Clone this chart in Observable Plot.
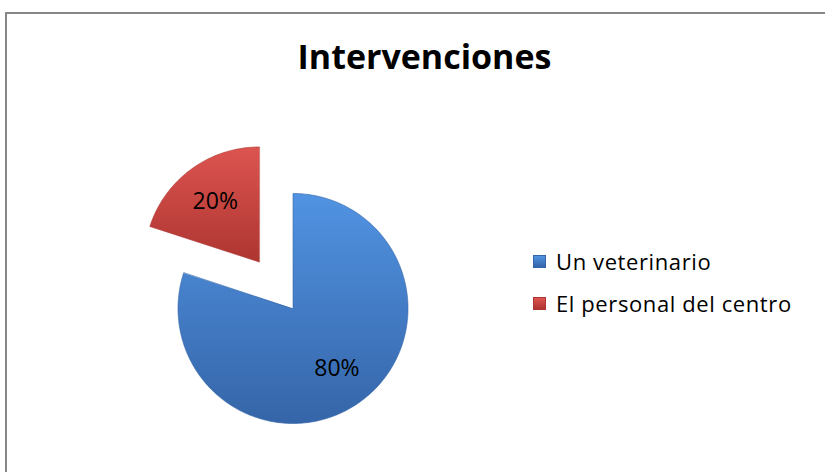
<!DOCTYPE html>
<html><head><meta charset="utf-8">
<script src="https://cdn.jsdelivr.net/npm/d3@7"></script>
<script src="https://cdn.jsdelivr.net/npm/@observablehq/plot@0.6"></script>
<style>
body{margin:0;background:#fff;}
#wrap{position:relative;width:825px;height:472px;overflow:hidden;background:#fff;font-family:"Open Sans",sans-serif;}
#frame{position:absolute;left:5px;top:12px;width:900px;height:520px;border:2px solid #868686;box-sizing:border-box;}
#title{position:absolute;left:0;width:849px;top:34px;text-align:center;font-weight:bold;font-size:34px;color:#000;line-height:44px;}
#chart{position:absolute;left:0;top:0;}
#legend{position:absolute;left:533px;top:240px;}
.item{display:flex;align-items:center;height:42px;font-size:22px;letter-spacing:0.6px;color:#000;}
.sw{width:13px;height:13px;margin-right:10px;box-sizing:border-box;}
</style></head>
<body>
<div id="wrap">
  <div id="frame"></div>
  <div id="title"></div>
  <div id="chart"></div>
  <div id="legend"></div>
</div>
<script>
const title = "Intervenciones";
const categories = ["Un veterinario", "El personal del centro"];
const values = [80, 20];
const percentLabels = ["80%", "20%"];
const explode = [0, 0.5];
const topColors = ["#5193e2", "#dc5450"];
const bottomColors = ["#3565a8", "#ae3531"];

const total = d3.sum(values);
let acc = 0;
const slices = values.map((v, i) => {
  const a0 = acc / total * 2 * Math.PI;
  acc += v;
  const a1 = acc / total * 2 * Math.PI;
  const mid = (a0 + a1) / 2;
  const ox = explode[i] * Math.sin(mid), oy = explode[i] * Math.cos(mid);
  return {i, a0, a1, mid, ox, oy};
});

const pts = [];
slices.forEach(s => {
  pts.push({slice: s.i, x: s.ox, y: s.oy});
  const n = Math.max(2, Math.ceil((s.a1 - s.a0) / (Math.PI / 180)));
  for (let k = 0; k <= n; k++) {
    const a = s.a0 + (s.a1 - s.a0) * k / n;
    pts.push({slice: s.i, x: s.ox + Math.sin(a), y: s.oy + Math.cos(a)});
  }
});
const labels = slices.map(s => ({
  text: percentLabels[s.i],
  x: s.ox + 0.65 * Math.sin(s.mid),
  y: s.oy + 0.65 * Math.cos(s.mid)
}));

const W = 825, H = 472, R = 115, CX = 292.5, CY = 308;
const chart = Plot.plot({
  width: W, height: H,
  margin: 0,
  x: {domain: [-CX / R, (W - CX) / R], axis: null},
  y: {domain: [-(H - CY) / R, CY / R], axis: null},
  marks: [
    ...slices.map(s => Plot.line(pts.filter(p => p.slice === s.i), {
      x: "x", y: "y", curve: "linear-closed",
      fill: `url(#grad${s.i})`, stroke: bottomColors[s.i], strokeWidth: 1, strokeOpacity: 0.6,
      style: {filter: "drop-shadow(0px 4px 3px rgba(0,0,0,0.35))"}
    })),
    Plot.text(labels, {x: "x", y: "y", text: "text", fontSize: 23, fill: "#000",
      fontFamily: "'Open Sans', sans-serif"})
  ]
});
const defs = d3.select(chart).insert("defs", ":first-child");
slices.forEach(s => {
  const g = defs.append("linearGradient").attr("id", `grad${s.i}`)
    .attr("x1", 0).attr("y1", 0).attr("x2", 0).attr("y2", 1);
  g.append("stop").attr("offset", "0%").attr("stop-color", topColors[s.i]);
  g.append("stop").attr("offset", "100%").attr("stop-color", bottomColors[s.i]);
});
chart.style.background = "transparent";
document.getElementById("chart").appendChild(chart);
document.getElementById("title").textContent = title;

const legend = document.getElementById("legend");
categories.forEach((c, i) => {
  const item = document.createElement("div");
  item.className = "item";
  const sw = document.createElement("div");
  sw.className = "sw";
  sw.style.background = `linear-gradient(${topColors[i]}, ${bottomColors[i]})`;
  sw.style.border = `1px solid ${bottomColors[i]}`;
  const t = document.createElement("span");
  t.textContent = c;
  item.appendChild(sw); item.appendChild(t);
  legend.appendChild(item);
});
</script>
</body></html>
